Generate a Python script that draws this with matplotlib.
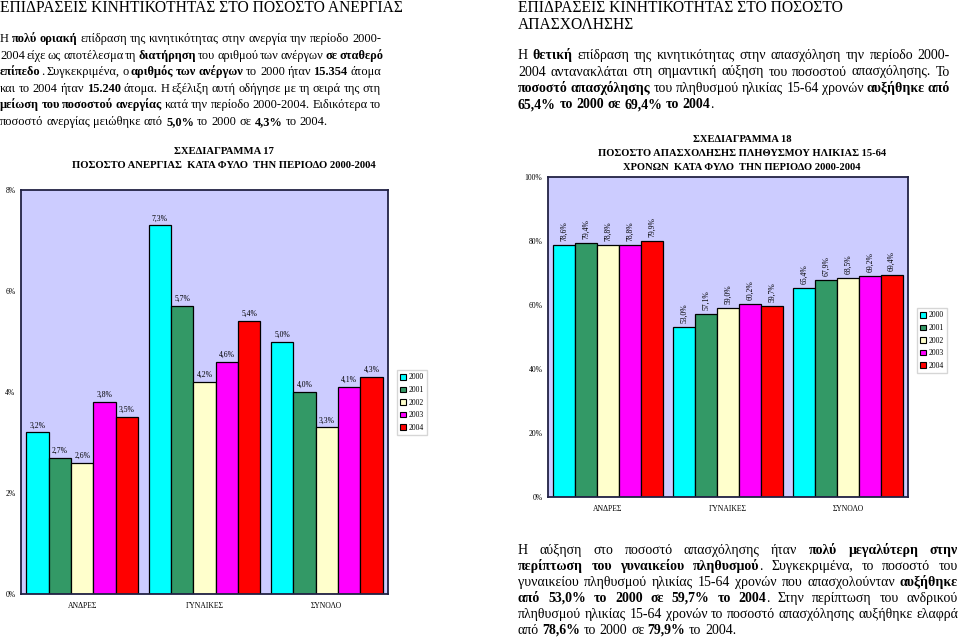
import numpy as np
import matplotlib
matplotlib.use('Agg')
import matplotlib.pyplot as plt
from matplotlib.patches import Patch
from matplotlib.transforms import IdentityTransform

plt.rcParams['font.family'] = ['Liberation Serif', 'DejaVu Serif']

years = ['2000', '2001', '2002', '2003', '2004']
groups = ['ΑΝΔΡΕΣ', 'ΓΥΝΑΙΚΕΣ', 'ΣΥΝΟΛΟ']
colors = ['#00FFFF', '#339966', '#FFFFCC', '#FF00FF', '#FF0000']

# ποσοστο ανεργιας (%)
unemp_men = [3.2, 2.7, 2.6, 3.8, 3.5]
unemp_women = [7.3, 5.7, 4.2, 4.6, 5.4]
unemp_total = [5.0, 4.0, 3.3, 4.1, 4.3]

# ποσοστο απασχολησης 15-64 (%)
empl_men = [78.6, 79.4, 78.8, 78.8, 79.9]
empl_women = [53.0, 57.1, 59.0, 60.2, 59.7]
empl_total = [65.4, 67.9, 68.5, 69.2, 69.4]

title_left = ['ΕΠΙΔΡΑΣΕΙΣ ΚΙΝΗΤΙΚΟΤΗΤΑΣ ΣΤΟ ΠΟΣΟΣΤΟ ΑΝΕΡΓΙΑΣ']
title_right = ['ΕΠΙΔΡΑΣΕΙΣ ΚΙΝΗΤΙΚΟΤΗΤΑΣ ΣΤΟ ΠΟΣΟΣΤΟ', 'ΑΠΑΣΧΟΛΗΣΗΣ']

# (κειμενο, bold)
text_left = [
    [('Η ', 0), ('πολύ οριακή', 1), (' επίδραση της κινητικότητας στην ανεργία την περίοδο 2000-', 0)],
    [('2004 είχε ως αποτέλεσμα τη ', 0), ('διατήρηση', 1), (' του αριθμού των ανέργων ', 0), ('σε σταθερό', 1)],
    [('επίπεδο', 1), ('. Συγκεκριμένα, ο ', 0), ('αριθμός των ανέργων', 1), (' το 2000 ήταν ', 0),
     ('15.354', 1), (' άτομα', 0)],
    [('και το 2004 ήταν ', 0), ('15.240', 1), (' άτομα. Η εξέλιξη αυτή οδήγησε με τη σειρά της στη', 0)],
    [('μείωση του ποσοστού ανεργίας', 1), (' κατά την περίοδο 2000-2004. Ειδικότερα το', 0)],
    [('ποσοστό ανεργίας μειώθηκε από ', 0), ('5,0%', 1), (' το 2000 σε ', 0), ('4,3%', 1), (' το 2004.', 0)],
]
text_right = [
    [('Η ', 0), ('θετική', 1), (' επίδραση της κινητικότητας στην απασχόληση την περίοδο 2000-', 0)],
    [('2004 αντανακλάται στη σημαντική αύξηση του ποσοστού απασχόλησης. Το', 0)],
    [('ποσοστό απασχόλησης', 1), (' του πληθυσμού ηλικίας 15-64 χρονών ', 0), ('αυξήθηκε από', 1)],
    [('65,4% το 2000 σε 69,4% το 2004', 1), ('.', 0)],
]
text_bottom = [
    [('Η αύξηση στο ποσοστό απασχόλησης ήταν ', 0), ('πολύ μεγαλύτερη στην', 1)],
    [('περίπτωση του γυναικείου πληθυσμού', 1), ('. Συγκεκριμένα, το ποσοστό του', 0)],
    [('γυναικείου πληθυσμού ηλικίας 15-64 χρονών που απασχολούνταν ', 0), ('αυξήθηκε', 1)],
    [('από 53,0% το 2000 σε 59,7% το 2004', 1), ('. Στην περίπτωση του ανδρικού', 0)],
    [('πληθυσμού ηλικίας 15-64 χρονών το ποσοστό απασχόλησης αυξήθηκε ελαφρά', 0)],
    [('από ', 0), ('78,6%', 1), (' το 2000 σε ', 0), ('79,9%', 1), (' το 2004.', 0)],
]

W, H = 960, 637
fig = plt.figure(figsize=(W / 100, H / 100), dpi=100)
renderer = fig.canvas.get_renderer()


def put(x, y, s, bold=False, size=10, **kw):
    return fig.text(x, H - y, s, transform=IdentityTransform(), fontsize=size,
                    fontweight='bold' if bold else 'normal', **kw)


def wid(t):
    return t.get_window_extent(renderer).width


def split_words(segs):
    words = [[]]
    for txt, b in segs:
        parts = txt.split(' ')
        for k, p in enumerate(parts):
            if k > 0:
                words.append([])
            if p:
                words[-1].append((p, b))
    return [w for w in words if w]


def paragraph(lines, x0, y0, width, lead, size):
    t = put(0, 0, 'n n', size=size)
    t2 = put(0, 0, 'nn', size=size)
    space = wid(t) - wid(t2)
    t.remove(); t2.remove()
    for k, segs in enumerate(lines):
        y = y0 + k * lead
        words = split_words(segs)
        arts, ws = [], []
        for w in words:
            pieces = []
            for txt, b in w:
                a = put(0, y, txt, b, size, ha='left', va='baseline')
                pieces.append((a, wid(a)))
            arts.append(pieces)
            ws.append(sum(p[1] for p in pieces))
        if k == len(lines) - 1 or len(words) < 2:
            gap = space
        else:
            gap = max((width - sum(ws)) / (len(words) - 1), 0.6 * space)
        x = x0
        for pieces in arts:
            for a, pw in pieces:
                a.set_x(x)
                x += pw
            x += gap


def heading(lines, x0, y0, lead, size):
    for k, s in enumerate(lines):
        put(x0, y0 + k * lead, s, size=size, ha='left', va='baseline')


def label(v):
    return f'{v:.1f}'.replace('.', ',') + '%'


def bar_chart(rect, data, ymax, step, rotate, leg_xy, title_lines, title_x, title_y, tsize):
    ax = fig.add_axes([rect[0] / W, 1 - rect[3] / H, (rect[2] - rect[0]) / W, (rect[3] - rect[1]) / H])
    ax.set_facecolor('#CCCCFF')
    w = 0.183
    x = np.arange(len(groups))
    for j, yr in enumerate(years):
        vals = [row[j] for row in data]
        bars = ax.bar(x + (j - 2) * w, vals, w, color=colors[j], edgecolor='black', linewidth=0.9)
        for b, v in zip(bars, vals):
            cx = b.get_x() + b.get_width() / 2
            if rotate:
                ax.annotate(label(v), (cx, v), xytext=(0, 4), textcoords='offset pixels',
                            ha='center', va='bottom', rotation=90, fontsize=5.5)
            else:
                ax.annotate(label(v), (cx, v), xytext=(0, 7), textcoords='offset pixels',
                            ha='center', va='center', fontsize=5.5)
    ax.set_xlim(-0.5, 2.5)
    ax.set_ylim(0, ymax)
    ticks = np.arange(0, ymax + 0.001, step)
    ax.set_yticks(ticks)
    ax.set_yticklabels([f'{int(t)}%' for t in ticks])
    ax.set_xticks(x)
    ax.set_xticklabels(groups)
    ax.tick_params(length=0, labelsize=5.5)
    ax.tick_params(axis='x', pad=6)
    ax.tick_params(axis='y', pad=4)
    for s in ax.spines.values():
        s.set_color('#222244')
        s.set_linewidth(1.3)
    handles = [Patch(facecolor=c, edgecolor='black', linewidth=0.8) for c in colors]
    fig.legend(handles, years, loc='upper left', bbox_to_anchor=(leg_xy[0] / W, 1 - leg_xy[1] / H),
               fontsize=5.5, frameon=True, fancybox=False, edgecolor='#cccccc',
               handlelength=0.75, handleheight=0.75, handletextpad=0.3, borderpad=0.45,
               labelspacing=0.6, borderaxespad=0)
    for k, s in enumerate(title_lines):
        put(title_x, title_y + k * 14, s, True, tsize, ha='center', va='center')
    return ax


heading(title_left, 0, 12, 17, 11.2)
heading(title_right, 518, 12, 17, 11.2)
paragraph(text_left, 0, 42, 381, 16.6, 8.9)
paragraph(text_right, 518, 59, 432, 16.5, 10)
paragraph(text_bottom, 518, 554, 440, 16.0, 10)

bar_chart((21, 190, 388, 594), [unemp_men, unemp_women, unemp_total], 8, 2, False, (397, 370),
          ['ΣΧΕΔΙΑΓΡΑΜΜΑ 17', 'ΠΟΣΟΣΤΟ ΑΝΕΡΓΙΑΣ  ΚΑΤΑ ΦΥΛΟ  ΤΗΝ ΠΕΡΙΟΔΟ 2000-2004'], 224, 152, 7.7)
bar_chart((548, 177, 908, 497), [empl_men, empl_women, empl_total], 100, 20, True, (917, 308),
          ['ΣΧΕΔΙΑΓΡΑΜΜΑ 18', 'ΠΟΣΟΣΤΟ ΑΠΑΣΧΟΛΗΣΗΣ ΠΛΗΘΥΣΜΟΥ ΗΛΙΚΙΑΣ 15-64',
           'ΧΡΟΝΩΝ  ΚΑΤΑ ΦΥΛΟ  ΤΗΝ ΠΕΡΙΟΔΟ 2000-2004'], 742, 139, 7.6)

fig.savefig('out.png', dpi=100)
